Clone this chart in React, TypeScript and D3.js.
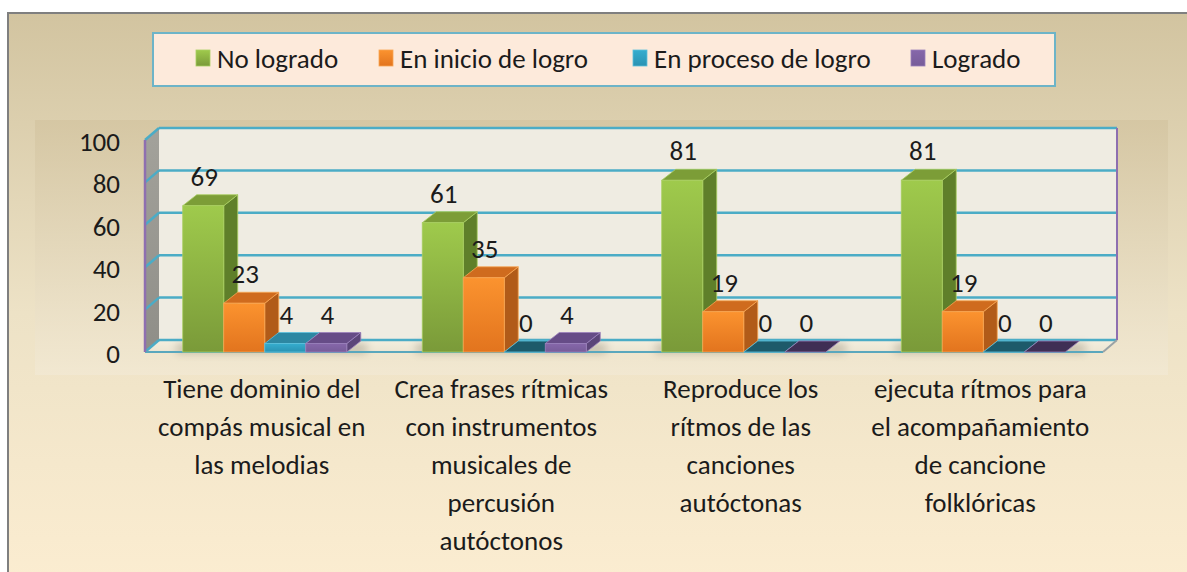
import React from 'react';
import * as d3 from 'd3';

const categories = [
  ['Tiene dominio del', 'compás musical en', 'las melodias'],
  ['Crea frases rítmicas', 'con instrumentos', 'musicales de', 'percusión', 'autóctonos'],
  ['Reproduce los', 'rítmos de las', 'canciones', 'autóctonas'],
  ['ejecuta rítmos para', 'el acompañamiento', 'de cancione', 'folklóricas'],
];
const series = ['No logrado', 'En inicio de logro', 'En proceso de logro', 'Logrado'];
const noLogrado = [69, 61, 81, 81];
const enInicio = [23, 35, 19, 19];
const enProceso = [4, 0, 0, 0];
const logrado = [4, 4, 0, 0];
const yTicks = [0, 20, 40, 60, 80, 100];

const values = [noLogrado, enInicio, enProceso, logrado];

// front / side / top / zero-top colours per series
const palette = [
  { front: ['#9fca4c', '#7a9a39'], side: '#5f7f2a', top: '#7c9d37', edge: '#a9cf62', flat: '#4f6b24' },
  { front: ['#fb932f', '#e2741e'], side: '#b15b19', top: '#cf6b1e', edge: '#f8a653', flat: '#8c4714' },
  { front: ['#35adcf', '#2a92b2'], side: '#23788f', top: '#2d87a2', edge: '#5cc0dd', flat: '#1d5a6a' },
  { front: ['#8667aa', '#775c99'], side: '#5b4579', top: '#664c87', edge: '#9a80bb', flat: '#3f2f55' },
];

const FONT = 'Carlito, Calibri, Lato, "Open Sans", sans-serif';
const FS = 27;
const DX = 14;
const DY = -12;

const App = () => {
  const x0 = d3.scaleBand().domain(d3.range(categories.length).map(String)).range([145, 1103]);
  const x1 = d3.scaleBand().domain(series).range([0, x0.bandwidth()]).paddingOuter(0.92);
  const y = d3.scaleLinear().domain([0, 100]).range([352, 140]);

  const left = 145;
  const right = 1103;
  const base = y(0);
  const topY = y(100);

  const pts = (arr) => arr.map((p) => p.join(',')).join(' ');

  const bars = [];
  const labels = [];
  categories.forEach((_, ci) => {
    series.forEach((s, si) => {
      const v = values[si][ci];
      const c = palette[si];
      const bx = x0(String(ci)) + x1(s);
      const bw = x1.bandwidth();
      const ty = y(v);
      const key = `${ci}-${si}`;
      if (v === 0) {
        bars.push(
          <g key={key}>
            <polygon points={pts([[bx, base], [bx + bw, base], [bx + bw + DX, base + DY + 1], [bx + DX, base + DY + 1]])}
              fill={c.flat} stroke={c.edge} strokeWidth={0.8} />
          </g>
        );
      } else {
        bars.push(
          <g key={key}>
            <polygon points={pts([[bx + bw, base], [bx + bw, ty], [bx + bw + DX, ty + DY + 1], [bx + bw + DX, base + DY + 1]])}
              fill={c.side} stroke={c.edge} strokeWidth={0.8} />
            <polygon points={pts([[bx, ty], [bx + bw, ty], [bx + bw + DX, ty + DY + 1], [bx + DX, ty + DY + 1]])}
              fill={c.top} stroke={c.edge} strokeWidth={0.8} />
            <rect x={bx} y={ty} width={bw} height={base - ty} fill={`url(#front${si})`} stroke={c.edge} strokeWidth={0.8} />
          </g>
        );
      }
      labels.push(
        <text key={key} x={bx + bw / 2 + 1} y={ty - 20} textAnchor="middle" fontSize={FS} fill="#1b1b1b" fontFamily={FONT}>
          {v}
        </text>
      );
    });
  });

  const legendX = [196, 379, 633, 911];

  return (
    <svg width={1187} height={572} style={{ position: 'absolute', left: 0, top: 0, background: '#fff' }}>
      <defs>
        <linearGradient id="bg" x1="0" y1="0" x2="0" y2="1">
          <stop offset="0" stopColor="#d2c4a0" />
          <stop offset="0.5" stopColor="#ede2c6" />
          <stop offset="1" stopColor="#fdeed2" />
        </linearGradient>
        <linearGradient id="band" x1="0" y1="0" x2="0" y2="1">
          <stop offset="0" stopColor="#d3c4a0" />
          <stop offset="1" stopColor="#f2e9d4" />
        </linearGradient>
        <linearGradient id="sidewall" x1="0" y1="0" x2="0" y2="1">
          <stop offset="0" stopColor="#a3a29b" />
          <stop offset="1" stopColor="#8f8e88" />
        </linearGradient>
        <linearGradient id="floor" x1="0" y1="0" x2="0" y2="1">
          <stop offset="0" stopColor="#f4efdf" />
          <stop offset="1" stopColor="#ece5d2" />
        </linearGradient>
        {palette.map((c, i) => (
          <linearGradient key={i} id={`front${i}`} x1="0" y1="0" x2="0" y2="1">
            <stop offset="0" stopColor={c.front[0]} />
            <stop offset="1" stopColor={c.front[1]} />
          </linearGradient>
        ))}
        <filter id="blur" x="-20%" y="-200%" width="140%" height="500%">
          <feGaussianBlur stdDeviation="4" />
        </filter>
      </defs>

      <rect x={8} y={13} width={1200} height={600} fill="url(#bg)" stroke="#7f7f7f" strokeWidth={2} />
      <rect x={35} y={120} width={1133} height={255} fill="url(#band)" opacity={0.75} />

      {/* legend */}
      <rect x={153} y={33} width={902} height={53} fill="#fdeadb" stroke="#6db4c8" strokeWidth={2} />
      {series.map((s, i) => (
        <g key={s}>
          <rect x={legendX[i]} y={50} width={14} height={16} fill={`url(#front${i})`} stroke={palette[i].edge} strokeWidth={0.8} />
          <text x={legendX[i] + 21} y={68} fontSize={FS} fill="#1b1b1b" fontFamily={FONT}>{s}</text>
        </g>
      ))}

      {/* walls */}
      <polygon points={pts([[left, base], [left, topY], [left + DX, topY + DY], [left + DX, base + DY]])} fill="url(#sidewall)" />
      <rect x={left + DX} y={topY + DY} width={right - left} height={base - topY} fill="#efece2" />
      <polygon points={pts([[left, base], [right, base], [right + DX, base + DY], [left + DX, base + DY]])} fill="url(#floor)" />
      {categories.map((_, ci) => (
        <rect key={ci} x={x0(String(ci)) + x1(series[0]) - 6} y={base - 8} width={x1.bandwidth() * 4 + 26} height={9}
          fill="#8a8270" opacity={0.45} filter="url(#blur)" />
      ))}
      {yTicks.map((t) => (
        <g key={t}>
          <line x1={left} y1={y(t)} x2={left + DX} y2={y(t) + DY} stroke="#4bacc6" strokeWidth={2.5} />
          <line x1={left + DX} y1={y(t) + DY} x2={right + DX} y2={y(t) + DY} stroke="#4bacc6" strokeWidth={2.5} />
        </g>
      ))}
      <line x1={left} y1={base} x2={right} y2={base} stroke="#5aa7bd" strokeWidth={2} />
      <line x1={right} y1={base} x2={right + DX} y2={base + DY} stroke="#9aa3a6" strokeWidth={2} />
      <line x1={right + DX} y1={topY + DY} x2={right + DX} y2={base + DY} stroke="#8e6fb0" strokeWidth={2} />
      <line x1={left} y1={base} x2={left} y2={topY} stroke="#8e6fb0" strokeWidth={2.5} />

      {bars}
      {labels}

      {/* y axis */}
      {yTicks.map((t) => (
        <text key={t} x={120} y={y(t) + 11} textAnchor="end" fontSize={FS} fill="#1b1b1b" fontFamily={FONT}>{t}</text>
      ))}

      {/* category labels */}
      {categories.map((lines, ci) => (
        <text key={ci} textAnchor="middle" fontSize={FS} fill="#1b1b1b" fontFamily={FONT}>
          {lines.map((l, li) => (
            <tspan key={li} x={x0(String(ci)) + x0.bandwidth() / 2 - 3} y={398 + li * 38}>{l}</tspan>
          ))}
        </text>
      ))}
    </svg>
  );
};

export default App;
